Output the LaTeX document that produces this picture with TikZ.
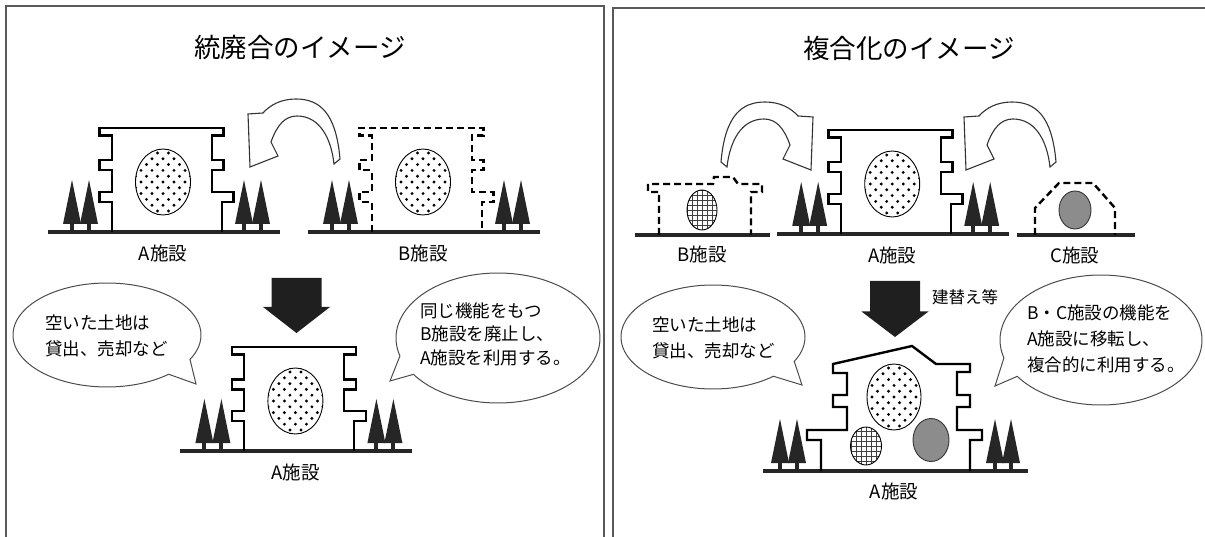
\documentclass[tikz,border=0pt]{standalone}
\usepackage{fontspec}
\setmainfont{Noto Sans CJK JP}
% tree: #1 = x of trunk, #2 = ground y
\newcommand\mytree[2]{%
  \fill[tree] ({#1-9},{#2-8}) -- (#1,{#2-52}) -- ({#1+9},{#2-8}) -- cycle;
  \fill[tree] ({#1-2},{#2-9}) rectangle ({#1+2},#2);}
% dotted ellipse: centre #1,#2, radii #3,#4
\newcommand\dotellipse[4]{%
  \begin{scope}
    \clip (#1,#2) ellipse [x radius=#3pt, y radius=#4pt];
    \fill[white] (#1,#2) ellipse [x radius=#3pt, y radius=#4pt];
    \foreach \j in {-7,...,7}{\foreach \i in {-4,...,4}{%
      \fill ({#1+\i*11+5.5*mod(\j+20,2)},{#2+\j*5.8}) circle (1.6pt);}}
  \end{scope}
  \draw[line width=0.9pt] (#1,#2) ellipse [x radius=#3pt, y radius=#4pt];}
% chequered ellipse
\newcommand\gridellipse[4]{%
  \begin{scope}
    \clip (#1,#2) ellipse [x radius=#3pt, y radius=#4pt];
    \fill[white] (#1,#2) ellipse [x radius=#3pt, y radius=#4pt];
    \foreach \k in {-5,...,5}{%
      \draw[line width=0.5pt, black!75] ({#1+\k*5},{#2-#4}) -- ({#1+\k*5},{#2+#4});
      \draw[line width=0.5pt, black!75] ({#1-#3},{#2+\k*5}) -- ({#1+#3},{#2+\k*5});}
  \end{scope}
  \draw[line width=0.9pt] (#1,#2) ellipse [x radius=#3pt, y radius=#4pt];}
% standard facility: #1,#2 top-left corner, #3 wall style, #4 node name, #5 label
\newcommand\facility[5]{%
  \begin{scope}[shift={(#1,#2)}]
    \draw[ground] (-51.3,104) -- (180.7,104);
    \draw[#3] (12.4,104) -- (12.4,74) -- (0,74) -- (0,64) -- (12.4,64) -- (12.4,42.3)
      -- (0,42.3) -- (0,32.3) -- (12.4,32.3) -- (12.4,7.5) -- (0,7.5) -- (0,0)
      -- (124,0) -- (124,7.5) -- (112.4,7.5) -- (112.4,32.3) -- (124,32.3)
      -- (124,42.3) -- (112.4,42.3) -- (112.4,64) -- (134,64) -- (134,74)
      -- (122.4,74) -- (122.4,104);
    \dotellipse{63.7}{54}{27.5}{33}
    \mytree{-27.3}{104}\mytree{-10.3}{104}\mytree{144.7}{104}\mytree{161.7}{104}
    \node[label] (#4) at (63.7,125) {#5};
  \end{scope}}
% curved hollow arrow (tail right, head left)
\newcommand\hollowarrow{%
  \filldraw[hollow] (1056,162) .. controls (1052,115) and (1035,102) .. (1012,102)
    .. controls (997,102) and (986,108) .. (979,116) -- (964,117) -- (966,170)
    -- (994,159) -- (987,145) .. controls (993,128) and (1001,119) .. (1013,119)
    .. controls (1035,119) and (1047,140) .. (1050,167) -- cycle;}
\begin{document}
\begin{tikzpicture}[x=1pt,y=-1pt,
  wall/.style={line width=2.4pt, line join=miter, black},
  dashwall/.style={wall, dash pattern=on 7pt off 4pt},
  ground/.style={line width=3.2pt, black!85},
  tree/.style={fill=black!85},
  panel/.style={draw=black!65, line width=1.6pt},
  bubble/.style={draw=black!70, line width=1pt, fill=white},
  bubbletext/.style={align=left, inner sep=0pt, anchor=west},
  title/.style={font=\fontsize{26.5}{30}\selectfont, inner sep=0pt},
  label/.style={font=\fontsize{18.5}{20}\selectfont, inner sep=0pt},
  bigarrow/.style={fill=black!88},
  hollow/.style={draw=black!80, line width=1.1pt, fill=white, line join=miter},
]
\useasboundingbox (0,0) rectangle (1205,537);
\clip (0,0) rectangle (1205,537);

% panels
\draw[panel] (6,6) rectangle (604,545);
\draw[panel] (613,8) rectangle (1210,545);
\node[title] (title1) at (300,47) {統廃合のイメージ};
\node[title] (title2) at (909,48) {複合化のイメージ};

% ---------- left panel ----------
\facility{99.3}{128}{wall}{fa1}{A施設}
\facility{359.3}{128}{dashwall}{fb1}{B施設}
\begin{scope}[shift={(-716,-3)}]\hollowarrow\end{scope}

\fill[bigarrow] (271.5,278) -- (321.5,278) -- (321.5,307) -- (330,307) -- (296.5,333)
  -- (263,307) -- (271.5,307) -- cycle;

\facility{231.7}{347}{wall}{fa2}{A施設}

\filldraw[bubble] plot[domain=49:388, samples=120] ({107+94*cos(\x)},{335+52*sin(\x)})
  -- (196,384) -- cycle;
\node[bubbletext, font=\fontsize{17.5}{26.5}\selectfont] (note1) at (45,336)
  {空いた土地は\\貸出、売却など};

\filldraw[bubble] plot[domain=164:506, samples=120] ({498+102*cos(\x)},{338+65*sin(\x)})
  -- (390,381) -- cycle;
\node[bubbletext, font=\fontsize{17.5}{23.5}\selectfont] (note2) at (420,334)
  {同じ機能をもつ\\B施設を廃止し、\\A施設を利用する。};

% ---------- right panel ----------
% B facility (small, dashed)
\draw[ground] (635,235) -- (770,235);
\draw[dashwall] (659,235) -- (659,192) -- (648,192) -- (648,184) -- (713,184)
  -- (714,177) -- (733,177) -- (738,184) -- (762,184) -- (762,192) -- (751,192)
  -- (751,235);
\gridellipse{702}{210}{15}{20}
\node[label] (fb2) at (702,254) {B施設};

% A facility
\facility{828.5}{130}{wall}{fa3}{A施設}

% C facility (small, dashed)
\draw[ground] (1017,235) -- (1135,235);
\draw[dashwall] (1035,235) -- (1035,208) -- (1059,183) -- (1093,183) -- (1115,208)
  -- (1115,235);
\filldraw[fill=black!45, draw=black!80, line width=0.9pt] (1075,210)
  ellipse [x radius=16pt, y radius=19pt];
\node[label] (fc) at (1075,255) {C施設};

% transfer arrows
\hollowarrow
\begin{scope}[shift={(1777,0)}, xscale=-1]\hollowarrow\end{scope}

\fill[bigarrow] (870,281) -- (920,281) -- (920,311.5) -- (928.5,311.5) -- (895,337)
  -- (861.5,311.5) -- (870,311.5) -- cycle;
\node[label, font=\fontsize{16.5}{20}\selectfont, anchor=west] (rebuild) at (932,297) {建替え等};

% composite facility
\draw[ground] (763,471) -- (1028,471);
\draw[wall] (821,471) -- (821,440) -- (807,440) -- (807,430) -- (847,430) -- (847,407)
  -- (833,407) -- (833,395) -- (847,395) -- (847,373) -- (833,373) -- (833,364)
  -- (912,346) -- (936,364) -- (970,364) -- (970,372) -- (957,372) -- (957,395)
  -- (970,395) -- (970,407) -- (957,407) -- (957,430) -- (982,430) -- (982,440)
  -- (970,440) -- (970,471);
\dotellipse{894}{397}{27}{33}
\gridellipse{866}{446}{15.5}{19}
\filldraw[fill=black!45, draw=black!80, line width=0.9pt] (931,440)
  ellipse [x radius=18pt, y radius=21.5pt];
\mytree{780}{471}\mytree{797}{471}\mytree{995}{471}\mytree{1011}{471}
\node[label] (fa4) at (894,491) {A施設};

\filldraw[bubble] plot[domain=49:388, samples=120] ({713+92*cos(\x)},{337+52*sin(\x)})
  -- (802,385) -- cycle;
\node[bubbletext, font=\fontsize{17.5}{26}\selectfont] (note3) at (652,338)
  {空いた土地は\\貸出、売却など};

\filldraw[bubble] plot[domain=164:506, samples=120] ({1101+101*cos(\x)},{340+65*sin(\x)})
  -- (995,386) -- cycle;
\node[bubbletext, font=\fontsize{17.5}{26}\selectfont] (note4) at (1027,339)
  {B・C施設の機能を\\A施設に移転し、\\複合的に利用する。};
\end{tikzpicture}
\end{document}
